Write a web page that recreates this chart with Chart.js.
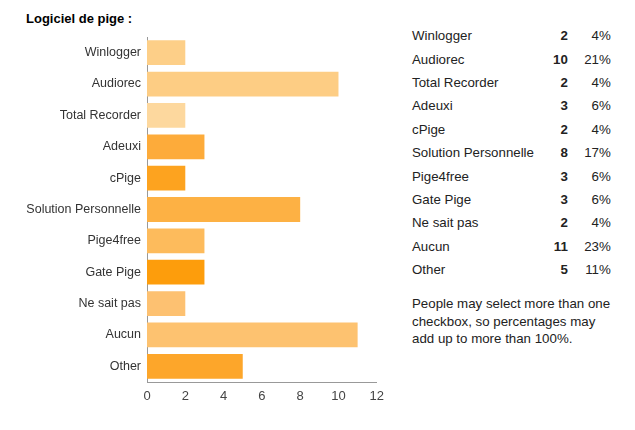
<!DOCTYPE html>
<html>
<head>
<meta charset="utf-8">
<script src="https://cdn.jsdelivr.net/npm/chart.js@4"></script>
<style>
  body { margin: 0; background: #fff; font-family: "Liberation Sans", Arial, sans-serif; }
  #wrap { position: relative; width: 635px; height: 430px; }
  #title { position: absolute; left: 26px; top: 11px; font-size: 13px; font-weight: bold; color: #000; }
  #chartBox { position: absolute; left: 0; top: 0; width: 386px; height: 430px; }
  #tbl { position: absolute; left: 412px; top: 24px; border-collapse: collapse; font-size: 13.3px; color: #222; }
  #tbl td { padding: 0; height: 23.4px; }
  #tbl td.n { width: 141px; }
  #tbl td.c { width: 14px; text-align: right; font-weight: bold; }
  #tbl td.p { width: 43px; text-align: right; }
  #note { position: absolute; left: 412px; top: 295px; width: 205px; font-size: 13.3px; line-height: 17.5px; color: #222; }
</style>
</head>
<body>
<div id="wrap">
  <div id="title">Logiciel de pige :</div>
  <div id="chartBox"><canvas id="barChart"></canvas></div>
  <table id="tbl"></table>
  <div id="note">People may select more than one checkbox, so percentages may add up to more than 100%.</div>
</div>
<script>
var labels = ['Winlogger', 'Audiorec', 'Total Recorder', 'Adeuxi', 'cPige', 'Solution Personnelle',
              'Pige4free', 'Gate Pige', 'Ne sait pas', 'Aucun', 'Other'];
var counts = [2, 10, 2, 3, 2, 8, 3, 3, 2, 11, 5];
var percents = ['4%', '21%', '4%', '6%', '4%', '17%', '6%', '6%', '4%', '23%', '11%'];
var barColors = ['#fdcf88', '#fdcd84', '#fdd89e', '#fdab3a', '#fda31f', '#fdb144',
                 '#fdbb5c', '#fd9d0c', '#fdc171', '#fdc270', '#fda62a'];

// summary table on the right
var tbl = document.getElementById('tbl');
labels.forEach(function(name, i) {
    var tr = document.createElement('tr');
    tr.innerHTML = '<td class="n">' + name + '</td><td class="c">' + counts[i] +
                   '</td><td class="p">' + percents[i] + '</td>';
    tbl.appendChild(tr);
});

var ctx = document.getElementById('barChart').getContext('2d');
var myChart = new Chart(ctx, {
    type: 'bar',
    data: {
        labels: labels,
        datasets: [{
            data: counts,
            backgroundColor: barColors,
            borderWidth: 0,
            barPercentage: 0.79,
            categoryPercentage: 1
        }]
    },
    options: {
        indexAxis: 'y',
        responsive: true,
        maintainAspectRatio: false,
        animation: false,
        layout: { padding: { top: 37, right: 8 } },
        plugins: {
            legend: { display: false },
            tooltip: { enabled: false }
        },
        scales: {
            x: {
                min: 0,
                max: 12,
                ticks: { stepSize: 2, color: '#444', font: { family: 'Liberation Sans', size: 13 }, padding: 2 },
                grid: { display: false, drawTicks: true, tickLength: 5, tickColor: '#999' },
                border: { color: '#999' },
                afterFit: function(scale) { scale.height = 48; }
            },
            y: {
                ticks: { color: '#333', font: { family: 'Liberation Sans', size: 12.5 }, padding: 1 },
                grid: { display: false, drawTicks: true, tickLength: 5, tickColor: '#999' },
                border: { color: '#999' },
                afterFit: function(scale) { scale.width = 147; }
            }
        }
    }
});
</script>
</body>
</html>
